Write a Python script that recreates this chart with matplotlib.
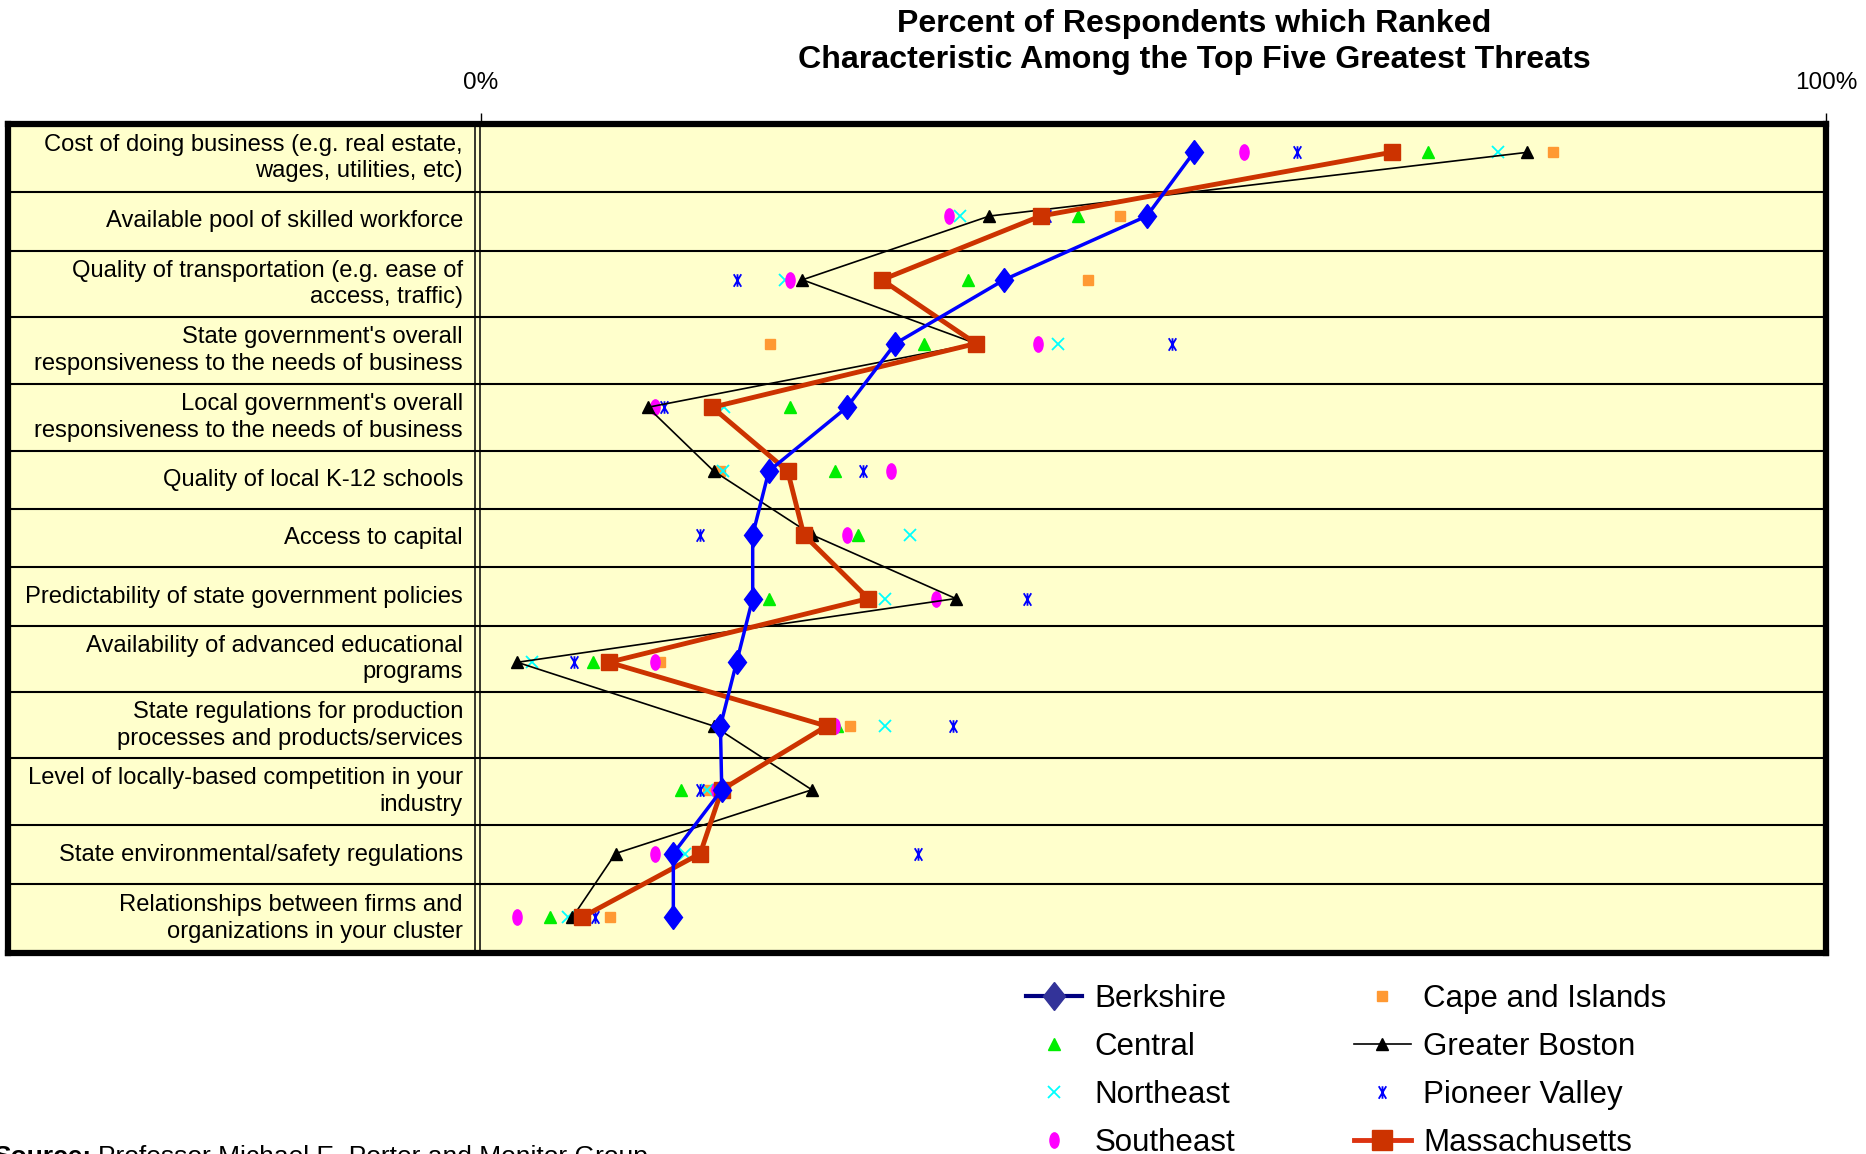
import numpy as np
import matplotlib
matplotlib.use("Agg")
import matplotlib.pyplot as plt
from matplotlib.lines import Line2D
from matplotlib.markers import MarkerStyle
from matplotlib.path import Path
from matplotlib.transforms import Affine2D

plt.rcParams["font.family"] = ["Liberation Sans", "DejaVu Sans"]

# ---- data (percent of respondents), top row first ----
categories = [
    "Cost of doing business (e.g. real estate,\nwages, utilities, etc)",
    "Available pool of skilled workforce",
    "Quality of transportation (e.g. ease of\naccess, traffic)",
    "State government's overall\nresponsiveness to the needs of business",
    "Local government's overall\nresponsiveness to the needs of business",
    "Quality of local K-12 schools",
    "Access to capital",
    "Predictability of state government policies",
    "Availability of advanced educational\nprograms",
    "State regulations for production\nprocesses and products/services",
    "Level of locally-based competition in your\nindustry",
    "State environmental/safety regulations",
    "Relationships between firms and\norganizations in your cluster",
]
berkshire = [53.0, 49.5, 38.9, 30.8, 27.2, 21.4, 20.2, 20.2, 19.0, 17.8, 17.9, 14.3, 14.3]
cape = [79.7, 47.5, 45.1, 21.5, 17.2, 17.8, 24.0, 28.8, 13.3, 27.4, 16.9, 16.2, 9.6]
central = [70.4, 44.4, 36.2, 32.9, 23.0, 26.3, 28.0, 21.4, 8.3, 26.5, 14.9, 16.2, 5.1]
greater_boston = [77.8, 37.8, 23.9, 36.8, 12.4, 17.3, 24.6, 35.3, 2.7, 17.3, 24.6, 10.0, 6.8]
northeast = [75.6, 35.6, 22.6, 42.9, 18.1, 18.0, 31.9, 30.0, 3.8, 30.0, 16.8, 15.2, 6.5]
pioneer = [60.7, 42.1, 19.0, 51.4, 13.6, 28.4, 16.3, 40.6, 6.9, 35.1, 16.3, 32.5, 8.5]
southeast = [56.7, 34.8, 23.0, 41.4, 12.9, 30.5, 27.2, 33.8, 12.9, 26.3, 17.5, 12.9, 2.7]
massachusetts = [67.7, 41.6, 29.8, 36.8, 17.2, 22.8, 24.0, 28.8, 9.5, 25.7, 17.9, 16.3, 7.5]

# table cell borders (in row units) -- the label cells are not all the same height
row_edges = [-0.444, 0.618, 1.544, 2.588, 3.634, 4.681, 5.595, 6.510,
             7.431, 8.471, 9.506, 10.553, 11.478, 12.56]

W, H = 1866, 1154
fig = plt.figure(figsize=(W / 100, H / 100), dpi=100)
ax = fig.add_axes([8 / W, 1 - 953 / H, (1826 - 8) / W, (953 - 124) / H])
ax.set_facecolor("#FFFFCC")

x_left = -(481 - 8) / (1826 - 481) * 100
ax.set_xlim(x_left, 100)
ax.set_ylim(row_edges[-1], row_edges[0])

y = np.arange(len(categories))

# markers roughly like the Excel ones
star = Path([(0, -1), (0, 1), (-0.6, -1), (0.6, 1), (-0.6, 1), (0.6, -1)],
            [Path.MOVETO, Path.LINETO, Path.MOVETO, Path.LINETO, Path.MOVETO, Path.LINETO])
ellipse = MarkerStyle("o", transform=Affine2D().scale(0.6, 1.0))
diamond = MarkerStyle("D", transform=Affine2D().scale(0.8, 1.0))

for e in row_edges[1:-1]:
    ax.axhline(e, color="black", lw=1.5, zorder=1)
ax.axvline(-0.45, color="black", lw=1.1, zorder=1)
ax.axvline(-0.05, color="black", lw=1.1, zorder=1)

h_cape, = ax.plot(cape, y, ls="none", marker="s", ms=7, color="#FF9933", zorder=3)
h_central, = ax.plot(central, y, ls="none", marker="^", ms=9, color="#00EE00", zorder=3)
h_ne, = ax.plot(northeast, y, ls="none", marker="x", ms=8, mew=1.3, color="#00FFFF", zorder=3)
h_se, = ax.plot(southeast, y, ls="none", marker=ellipse, ms=11, color="#FF00FF", zorder=3)
h_pv, = ax.plot(pioneer, y, ls="none", marker=star, ms=9, mew=1.3, color="#0000FF", zorder=3)
h_gb, = ax.plot(greater_boston, y, "-", lw=1.2, marker="^", ms=9, color="black", zorder=4)
h_ma, = ax.plot(massachusetts, y, "-", lw=3.5, marker="s", ms=11, color="#CC3300", zorder=5)
h_be, = ax.plot(berkshire, y, "-", lw=2.5, marker=diamond, ms=12, color="#0000FF", zorder=6)

for i, lab in enumerate(categories):
    yc = (row_edges[i] + row_edges[i + 1]) / 2
    ax.text(-1.34, yc, lab, ha="right", va="center", fontsize=17.1, linespacing=1.27)

ax.xaxis.tick_top()
ax.set_xticks([0, 100])
ax.set_xticklabels(["0%", "100%"])
ax.tick_params(axis="x", direction="out", length=8, width=1, pad=13.5, labelsize=17.5)
ax.set_yticks([])
for s in ax.spines.values():
    s.set_linewidth(4.5)

fig.text(1194 / W, 1 - 42 / H,
         "Percent of Respondents which Ranked\nCharacteristic Among the Top Five Greatest Threats",
         ha="center", va="center", fontsize=23.1, fontweight="bold", linespacing=1.28)

berk_leg = Line2D([], [], color="#000080", lw=3, marker=diamond, ms=14,
                  mfc="#333399", mec="#333399")
mass_leg = Line2D([], [], color="#DD3311", lw=3.5, marker="s", ms=14,
                  mfc="#CC3300", mec="#CC3300")
handles = [berk_leg, h_central, h_ne, h_se, h_cape, h_gb, h_pv, mass_leg]
labels = ["Berkshire", "Central", "Northeast", "Southeast",
          "Cape and Islands", "Greater Boston", "Pioneer Valley", "Massachusetts"]
fig.legend(handles, labels, ncol=2, loc="upper left",
           bbox_to_anchor=(1026 / W, 1 - 984 / H), frameon=False, fontsize=22.5,
           handlelength=1.8, handletextpad=0.4, columnspacing=3.8,
           labelspacing=0.58, borderpad=0, borderaxespad=0)

# the source line sits at the very bottom edge, partly cut off as in the original
fig.text(98 / W, 1 - 1164 / H, "Professor Michael E. Porter and Monitor Group",
         fontsize=19, ha="left", va="baseline")
fig.text(91 / W, 1 - 1164 / H, "Source:", fontsize=19, fontweight="bold",
         ha="right", va="baseline")

fig.savefig("out.png", dpi=100)
